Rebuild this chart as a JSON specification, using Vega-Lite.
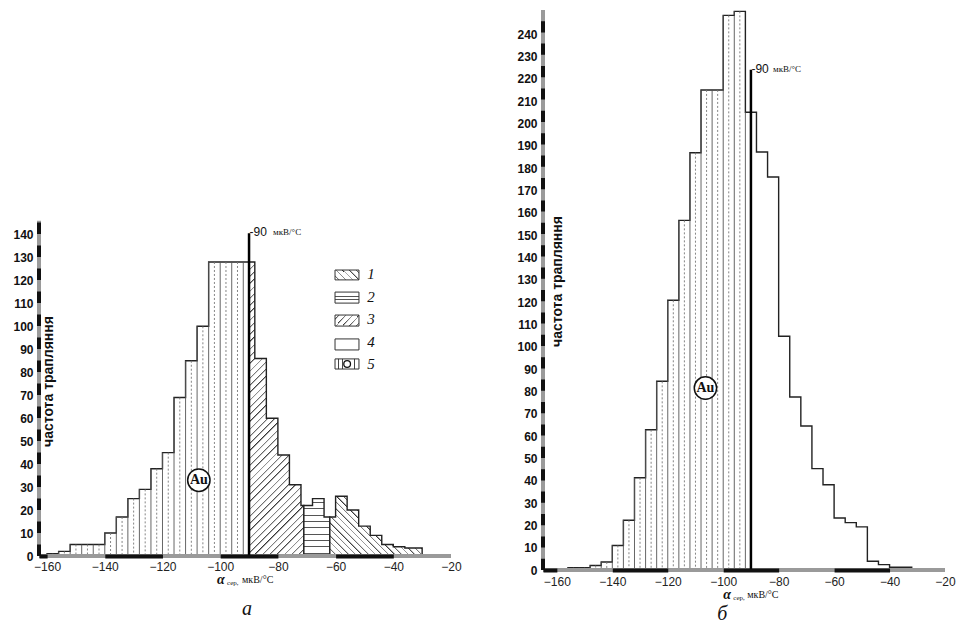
{
"$schema": "https://vega.github.io/schema/vega-lite/v6.json",
"background": "white",
"padding": {"left": 12, "top": 8, "right": 0, "bottom": 0},
"autosize": {"type": "pad"},
"config": {"view": {"stroke": null}},
"datasets": {
"a": [
{"x0":-160,"x1":-156,"n":1,"zone":"Au"},
{"x0":-156,"x1":-152,"n":2,"zone":"Au"},
{"x0":-152,"x1":-148,"n":5,"zone":"Au"},
{"x0":-148,"x1":-144,"n":5,"zone":"Au"},
{"x0":-144,"x1":-140,"n":5,"zone":"Au"},
{"x0":-140,"x1":-136,"n":10,"zone":"Au"},
{"x0":-136,"x1":-132,"n":17,"zone":"Au"},
{"x0":-132,"x1":-128,"n":25,"zone":"Au"},
{"x0":-128,"x1":-124,"n":29,"zone":"Au"},
{"x0":-124,"x1":-120,"n":38,"zone":"Au"},
{"x0":-120,"x1":-116,"n":45,"zone":"Au"},
{"x0":-116,"x1":-112,"n":69,"zone":"Au"},
{"x0":-112,"x1":-108,"n":85,"zone":"Au"},
{"x0":-108,"x1":-104,"n":100,"zone":"Au"},
{"x0":-104,"x1":-100,"n":128,"zone":"Au"},
{"x0":-100,"x1":-96,"n":128,"zone":"Au"},
{"x0":-96,"x1":-92,"n":128,"zone":"Au"},
{"x0":-92,"x1":-90,"n":128,"zone":"Au"},
{"x0":-90,"x1":-88,"n":128,"zone":"3"},
{"x0":-88,"x1":-84,"n":86,"zone":"3"},
{"x0":-84,"x1":-80,"n":60,"zone":"3"},
{"x0":-80,"x1":-76,"n":44,"zone":"3"},
{"x0":-76,"x1":-72,"n":31,"zone":"3"},
{"x0":-72,"x1":-71,"n":22,"zone":"3"},
{"x0":-71,"x1":-68,"n":22,"zone":"2"},
{"x0":-68,"x1":-64,"n":25,"zone":"2"},
{"x0":-64,"x1":-62,"n":17,"zone":"2"},
{"x0":-62,"x1":-60,"n":17,"zone":"1"},
{"x0":-60,"x1":-56,"n":26,"zone":"1"},
{"x0":-56,"x1":-52,"n":20,"zone":"1"},
{"x0":-52,"x1":-48,"n":13,"zone":"1"},
{"x0":-48,"x1":-44,"n":9,"zone":"1"},
{"x0":-44,"x1":-40,"n":5,"zone":"1"},
{"x0":-40,"x1":-36,"n":4,"zone":"1"},
{"x0":-36,"x1":-30,"n":3.5,"zone":"1"}
],
"b": [
{"x0":-156,"x1":-152,"n":1,"zone":"Au"},
{"x0":-152,"x1":-148,"n":1,"zone":"Au"},
{"x0":-148,"x1":-144,"n":2,"zone":"Au"},
{"x0":-144,"x1":-140,"n":3.6,"zone":"Au"},
{"x0":-140,"x1":-136,"n":11,"zone":"Au"},
{"x0":-136,"x1":-132,"n":22.3,"zone":"Au"},
{"x0":-132,"x1":-128,"n":41.3,"zone":"Au"},
{"x0":-128,"x1":-124,"n":62.8,"zone":"Au"},
{"x0":-124,"x1":-120,"n":84.5,"zone":"Au"},
{"x0":-120,"x1":-116,"n":120.8,"zone":"Au"},
{"x0":-116,"x1":-112,"n":156.6,"zone":"Au"},
{"x0":-112,"x1":-108,"n":186.9,"zone":"Au"},
{"x0":-108,"x1":-104,"n":215,"zone":"Au"},
{"x0":-104,"x1":-100,"n":215,"zone":"Au"},
{"x0":-100,"x1":-96,"n":248.4,"zone":"Au"},
{"x0":-96,"x1":-92,"n":250.2,"zone":"Au"},
{"x0":-92,"x1":-90,"n":205,"zone":"Au"},
{"x0":-90,"x1":-88,"n":205,"zone":"4"},
{"x0":-88,"x1":-84,"n":187.2,"zone":"4"},
{"x0":-84,"x1":-80,"n":176,"zone":"4"},
{"x0":-80,"x1":-76,"n":104.7,"zone":"4"},
{"x0":-76,"x1":-72,"n":77.5,"zone":"4"},
{"x0":-72,"x1":-68,"n":64.5,"zone":"4"},
{"x0":-68,"x1":-64,"n":45.4,"zone":"4"},
{"x0":-64,"x1":-60,"n":38.2,"zone":"4"},
{"x0":-60,"x1":-56,"n":23.3,"zone":"4"},
{"x0":-56,"x1":-52,"n":21.2,"zone":"4"},
{"x0":-52,"x1":-48,"n":19.3,"zone":"4"},
{"x0":-48,"x1":-44,"n":3.9,"zone":"4"},
{"x0":-44,"x1":-40,"n":2.4,"zone":"4"},
{"x0":-40,"x1":-36,"n":1.2,"zone":"4"},
{"x0":-36,"x1":-32,"n":1.2,"zone":"4"}
]
},
"spacing": 92,
"bounds": "flush",
"hconcat": [
{
"width": 412, "height": 546,
"layer": [
{"data": {"name": "a"},
 "transform": [{"filter": "datum.zone === 'Au'"}, {"fold": ["x0", "x1"], "as": ["edge", "xv"]}],
 "mark": {"type": "area", "fill": "#fff", "stroke": "#222", "strokeWidth": 1.4},
 "encoding": {
  "x": {"field": "xv", "type": "quantitative", "scale": {"domain": [-162.8, -20], "nice": false, "zero": false},
   "axis": {"values": [-160,-140,-120,-100,-80,-60,-40,-20], "tickCount": 40, "title": null, "ticks": false, "grid": false, "domainColor": "#111", "domainWidth": 4, "domainDash": [57.7, 57.7], "domainDashOffset": 49.6, "labelFont": "Liberation Sans", "labelFontSize": 12, "labelColor": "#222", "labelPadding": 5, "labelFlush": false, "labelOverlap": false, "zindex": 1}},
  "y": {"field": "n", "type": "quantitative", "stack": null, "scale": {"domain": [0, 237.7], "nice": false, "zero": false},
   "axis": {"values": [0,10,20,30,40,50,60,70,80,90,100,110,120,130,140], "tickCount": 60, "domain": false, "ticks": false, "grid": false, "labelFont": "Liberation Sans", "labelFontWeight": "bold", "labelFontSize": 12, "labelColor": "#111", "labelPadding": 6, "labelOverlap": false, "labelFlush": false, "title": "частота трапляння", "titleX": 13, "titleY": 371, "titleAngle": -90, "titleAlign": "center", "titleBaseline": "alphabetic", "titleFont": "Liberation Sans", "titleFontSize": 14, "titleFontWeight": "bold", "titleColor": "#111", "zindex": 1}},
  "order": [{"field": "xv", "type": "quantitative"}, {"field": "edge", "type": "nominal", "sort": "descending"}]
 }},
{"data": {"name": "a"},
 "transform": [{"filter": "datum.zone === '3'"}, {"fold": ["x0", "x1"], "as": ["edge", "xv"]}],
 "mark": {"type": "area", "stroke": "#222", "strokeWidth": 1.4,
  "fill": {"gradient": "linear", "x1": 0, "y1": 0, "x2": 0.2137, "y2": 1.1465, "stops": [
{"offset":0,"color":"#333"},{"offset":0.006,"color":"#fff"},
{"offset":0.0208,"color":"#fff"},{"offset":0.0208,"color":"#333"},{"offset":0.0268,"color":"#fff"},
{"offset":0.0417,"color":"#fff"},{"offset":0.0417,"color":"#333"},{"offset":0.0477,"color":"#fff"},
{"offset":0.0625,"color":"#fff"},{"offset":0.0625,"color":"#333"},{"offset":0.0685,"color":"#fff"},
{"offset":0.0833,"color":"#fff"},{"offset":0.0833,"color":"#333"},{"offset":0.0893,"color":"#fff"},
{"offset":0.1042,"color":"#fff"},{"offset":0.1042,"color":"#333"},{"offset":0.1102,"color":"#fff"},
{"offset":0.125,"color":"#fff"},{"offset":0.125,"color":"#333"},{"offset":0.131,"color":"#fff"},
{"offset":0.1458,"color":"#fff"},{"offset":0.1458,"color":"#333"},{"offset":0.1518,"color":"#fff"},
{"offset":0.1667,"color":"#fff"},{"offset":0.1667,"color":"#333"},{"offset":0.1727,"color":"#fff"},
{"offset":0.1875,"color":"#fff"},{"offset":0.1875,"color":"#333"},{"offset":0.1935,"color":"#fff"},
{"offset":0.2083,"color":"#fff"},{"offset":0.2083,"color":"#333"},{"offset":0.2143,"color":"#fff"},
{"offset":0.2292,"color":"#fff"},{"offset":0.2292,"color":"#333"},{"offset":0.2352,"color":"#fff"},
{"offset":0.25,"color":"#fff"},{"offset":0.25,"color":"#333"},{"offset":0.256,"color":"#fff"},
{"offset":0.2708,"color":"#fff"},{"offset":0.2708,"color":"#333"},{"offset":0.2768,"color":"#fff"},
{"offset":0.2917,"color":"#fff"},{"offset":0.2917,"color":"#333"},{"offset":0.2977,"color":"#fff"},
{"offset":0.3125,"color":"#fff"},{"offset":0.3125,"color":"#333"},{"offset":0.3185,"color":"#fff"},
{"offset":0.3333,"color":"#fff"},{"offset":0.3333,"color":"#333"},{"offset":0.3393,"color":"#fff"},
{"offset":0.3542,"color":"#fff"},{"offset":0.3542,"color":"#333"},{"offset":0.3602,"color":"#fff"},
{"offset":0.375,"color":"#fff"},{"offset":0.375,"color":"#333"},{"offset":0.381,"color":"#fff"},
{"offset":0.3958,"color":"#fff"},{"offset":0.3958,"color":"#333"},{"offset":0.4018,"color":"#fff"},
{"offset":0.4167,"color":"#fff"},{"offset":0.4167,"color":"#333"},{"offset":0.4227,"color":"#fff"},
{"offset":0.4375,"color":"#fff"},{"offset":0.4375,"color":"#333"},{"offset":0.4435,"color":"#fff"},
{"offset":0.4583,"color":"#fff"},{"offset":0.4583,"color":"#333"},{"offset":0.4643,"color":"#fff"},
{"offset":0.4792,"color":"#fff"},{"offset":0.4792,"color":"#333"},{"offset":0.4852,"color":"#fff"},
{"offset":0.5,"color":"#fff"},{"offset":0.5,"color":"#333"},{"offset":0.506,"color":"#fff"},
{"offset":0.5208,"color":"#fff"},{"offset":0.5208,"color":"#333"},{"offset":0.5268,"color":"#fff"},
{"offset":0.5417,"color":"#fff"},{"offset":0.5417,"color":"#333"},{"offset":0.5477,"color":"#fff"},
{"offset":0.5625,"color":"#fff"},{"offset":0.5625,"color":"#333"},{"offset":0.5685,"color":"#fff"},
{"offset":0.5833,"color":"#fff"},{"offset":0.5833,"color":"#333"},{"offset":0.5893,"color":"#fff"},
{"offset":0.6042,"color":"#fff"},{"offset":0.6042,"color":"#333"},{"offset":0.6102,"color":"#fff"},
{"offset":0.625,"color":"#fff"},{"offset":0.625,"color":"#333"},{"offset":0.631,"color":"#fff"},
{"offset":0.6458,"color":"#fff"},{"offset":0.6458,"color":"#333"},{"offset":0.6518,"color":"#fff"},
{"offset":0.6667,"color":"#fff"},{"offset":0.6667,"color":"#333"},{"offset":0.6727,"color":"#fff"},
{"offset":0.6875,"color":"#fff"},{"offset":0.6875,"color":"#333"},{"offset":0.6935,"color":"#fff"},
{"offset":0.7083,"color":"#fff"},{"offset":0.7083,"color":"#333"},{"offset":0.7143,"color":"#fff"},
{"offset":0.7292,"color":"#fff"},{"offset":0.7292,"color":"#333"},{"offset":0.7352,"color":"#fff"},
{"offset":0.75,"color":"#fff"},{"offset":0.75,"color":"#333"},{"offset":0.756,"color":"#fff"},
{"offset":0.7708,"color":"#fff"},{"offset":0.7708,"color":"#333"},{"offset":0.7768,"color":"#fff"},
{"offset":0.7917,"color":"#fff"},{"offset":0.7917,"color":"#333"},{"offset":0.7977,"color":"#fff"},
{"offset":0.8125,"color":"#fff"},{"offset":0.8125,"color":"#333"},{"offset":0.8185,"color":"#fff"},
{"offset":0.8333,"color":"#fff"},{"offset":0.8333,"color":"#333"},{"offset":0.8393,"color":"#fff"},
{"offset":0.8542,"color":"#fff"},{"offset":0.8542,"color":"#333"},{"offset":0.8602,"color":"#fff"},
{"offset":0.875,"color":"#fff"},{"offset":0.875,"color":"#333"},{"offset":0.881,"color":"#fff"},
{"offset":0.8958,"color":"#fff"},{"offset":0.8958,"color":"#333"},{"offset":0.9018,"color":"#fff"},
{"offset":0.9167,"color":"#fff"},{"offset":0.9167,"color":"#333"},{"offset":0.9227,"color":"#fff"},
{"offset":0.9375,"color":"#fff"},{"offset":0.9375,"color":"#333"},{"offset":0.9435,"color":"#fff"},
{"offset":0.9583,"color":"#fff"},{"offset":0.9583,"color":"#333"},{"offset":0.9643,"color":"#fff"},
{"offset":0.9792,"color":"#fff"},{"offset":0.9792,"color":"#333"},{"offset":0.9852,"color":"#fff"},
{"offset":1,"color":"#fff"}]}},
 "encoding": {
  "x": {"field": "xv", "type": "quantitative"},
  "y": {"field": "n", "type": "quantitative", "stack": null},
  "order": [{"field": "xv", "type": "quantitative"}, {"field": "edge", "type": "nominal", "sort": "descending"}]
 }},
{"data": {"name": "a"},
 "transform": [{"filter": "datum.zone === '2'"}, {"fold": ["x0", "x1"], "as": ["edge", "xv"]}],
 "mark": {"type": "area", "stroke": "#222", "strokeWidth": 1.4,
  "fill": {"gradient": "linear", "x1": 0, "y1": 0, "x2": 0, "y2": 1, "stops": [
{"offset":0,"color":"#fff"},
{"offset":0.0556,"color":"#fff"},{"offset":0.0556,"color":"#555"},{"offset":0.0736,"color":"#555"},{"offset":0.0736,"color":"#fff"},
{"offset":0.1667,"color":"#fff"},{"offset":0.1667,"color":"#555"},{"offset":0.1847,"color":"#555"},{"offset":0.1847,"color":"#fff"},
{"offset":0.2778,"color":"#fff"},{"offset":0.2778,"color":"#555"},{"offset":0.2958,"color":"#555"},{"offset":0.2958,"color":"#fff"},
{"offset":0.3889,"color":"#fff"},{"offset":0.3889,"color":"#555"},{"offset":0.4069,"color":"#555"},{"offset":0.4069,"color":"#fff"},
{"offset":0.5,"color":"#fff"},{"offset":0.5,"color":"#555"},{"offset":0.518,"color":"#555"},{"offset":0.518,"color":"#fff"},
{"offset":0.6111,"color":"#fff"},{"offset":0.6111,"color":"#555"},{"offset":0.6291,"color":"#555"},{"offset":0.6291,"color":"#fff"},
{"offset":0.7222,"color":"#fff"},{"offset":0.7222,"color":"#555"},{"offset":0.7402,"color":"#555"},{"offset":0.7402,"color":"#fff"},
{"offset":0.8333,"color":"#fff"},{"offset":0.8333,"color":"#555"},{"offset":0.8513,"color":"#555"},{"offset":0.8513,"color":"#fff"},
{"offset":0.9444,"color":"#fff"},{"offset":0.9444,"color":"#555"},{"offset":0.9624,"color":"#555"},{"offset":0.9624,"color":"#fff"},
{"offset":1,"color":"#fff"}]}},
 "encoding": {
  "x": {"field": "xv", "type": "quantitative"},
  "y": {"field": "n", "type": "quantitative", "stack": null},
  "order": [{"field": "xv", "type": "quantitative"}, {"field": "edge", "type": "nominal", "sort": "descending"}]
 }},
{"data": {"name": "a"},
 "transform": [{"filter": "datum.zone === '1'"}, {"fold": ["x0", "x1"], "as": ["edge", "xv"]}],
 "mark": {"type": "area", "stroke": "#222", "strokeWidth": 1.4,
  "fill": {"gradient": "linear", "x1": 0, "y1": 1, "x2": 1.1613, "y2": 0.2497, "stops": [
{"offset":0,"color":"#333"},{"offset":0.012,"color":"#fff"},
{"offset":0.0435,"color":"#fff"},{"offset":0.0435,"color":"#333"},{"offset":0.0555,"color":"#fff"},
{"offset":0.087,"color":"#fff"},{"offset":0.087,"color":"#333"},{"offset":0.099,"color":"#fff"},
{"offset":0.1304,"color":"#fff"},{"offset":0.1304,"color":"#333"},{"offset":0.1424,"color":"#fff"},
{"offset":0.1739,"color":"#fff"},{"offset":0.1739,"color":"#333"},{"offset":0.1859,"color":"#fff"},
{"offset":0.2174,"color":"#fff"},{"offset":0.2174,"color":"#333"},{"offset":0.2294,"color":"#fff"},
{"offset":0.2609,"color":"#fff"},{"offset":0.2609,"color":"#333"},{"offset":0.2729,"color":"#fff"},
{"offset":0.3043,"color":"#fff"},{"offset":0.3043,"color":"#333"},{"offset":0.3163,"color":"#fff"},
{"offset":0.3478,"color":"#fff"},{"offset":0.3478,"color":"#333"},{"offset":0.3598,"color":"#fff"},
{"offset":0.3913,"color":"#fff"},{"offset":0.3913,"color":"#333"},{"offset":0.4033,"color":"#fff"},
{"offset":0.4348,"color":"#fff"},{"offset":0.4348,"color":"#333"},{"offset":0.4468,"color":"#fff"},
{"offset":0.4783,"color":"#fff"},{"offset":0.4783,"color":"#333"},{"offset":0.4903,"color":"#fff"},
{"offset":0.5217,"color":"#fff"},{"offset":0.5217,"color":"#333"},{"offset":0.5337,"color":"#fff"},
{"offset":0.5652,"color":"#fff"},{"offset":0.5652,"color":"#333"},{"offset":0.5772,"color":"#fff"},
{"offset":0.6087,"color":"#fff"},{"offset":0.6087,"color":"#333"},{"offset":0.6207,"color":"#fff"},
{"offset":0.6522,"color":"#fff"},{"offset":0.6522,"color":"#333"},{"offset":0.6642,"color":"#fff"},
{"offset":0.6957,"color":"#fff"},{"offset":0.6957,"color":"#333"},{"offset":0.7077,"color":"#fff"},
{"offset":0.7391,"color":"#fff"},{"offset":0.7391,"color":"#333"},{"offset":0.7511,"color":"#fff"},
{"offset":0.7826,"color":"#fff"},{"offset":0.7826,"color":"#333"},{"offset":0.7946,"color":"#fff"},
{"offset":0.8261,"color":"#fff"},{"offset":0.8261,"color":"#333"},{"offset":0.8381,"color":"#fff"},
{"offset":0.8696,"color":"#fff"},{"offset":0.8696,"color":"#333"},{"offset":0.8816,"color":"#fff"},
{"offset":0.913,"color":"#fff"},{"offset":0.913,"color":"#333"},{"offset":0.925,"color":"#fff"},
{"offset":0.9565,"color":"#fff"},{"offset":0.9565,"color":"#333"},{"offset":0.9685,"color":"#fff"},
{"offset":1,"color":"#fff"}]}},
 "encoding": {
  "x": {"field": "xv", "type": "quantitative"},
  "y": {"field": "n", "type": "quantitative", "stack": null},
  "order": [{"field": "xv", "type": "quantitative"}, {"field": "edge", "type": "nominal", "sort": "descending"}]
 }},
{"data": {"name": "a"},
 "transform": [{"filter": "datum.zone === 'Au'"}],
 "mark": {"type": "rule", "stroke": "#555", "strokeWidth": 0.9},
 "encoding": {"x": {"field": "x0", "type": "quantitative"}, "y": {"field": "n", "type": "quantitative"}, "y2": {"datum": 0}}},
{"data": {"name": "a"},
 "transform": [{"filter": "datum.zone === 'Au'"}],
 "mark": {"type": "rule", "stroke": "#777", "strokeWidth": 0.9, "strokeDash": [2, 2], "xOffset": 5.77},
 "encoding": {"x": {"field": "x0", "type": "quantitative"}, "y": {"field": "n", "type": "quantitative"}, "y2": {"datum": 0}}},
{"data": {"values": [{}]},
 "mark": {"type": "rule", "stroke": "#9a9a9a", "strokeWidth": 4},
 "encoding": {"x": {"datum": -162.8}, "x2": {"datum": -20}, "y": {"datum": 0}}},
{"data": {"values": [{}]},
 "mark": {"type": "rule", "stroke": "#9a9a9a", "strokeWidth": 4},
 "encoding": {"x": {"datum": -162.8}, "y": {"datum": 0}, "y2": {"datum": 146}}},
{"data": {"values": [{}]},
 "mark": {"type": "rule", "stroke": "#111", "strokeWidth": 4, "strokeDash": [11.5, 11.5]},
 "encoding": {"x": {"datum": -162.8}, "y": {"datum": 0}, "y2": {"datum": 146}}},
{"data": {"values": [{}]},
 "mark": {"type": "rule", "stroke": "#000", "strokeWidth": 2.5},
 "encoding": {"x": {"datum": -90}, "y": {"datum": 0}, "y2": {"datum": 140.5}}},
{"data": {"values": [{}]},
 "mark": {"type": "text", "text": "-90", "align": "left", "baseline": "middle", "dx": 0.5, "font": "Liberation Sans", "fontSize": 12, "fill": "#111"},
 "encoding": {"x": {"datum": -90}, "y": {"datum": 141}}},
{"data": {"values": [{}]},
 "mark": {"type": "text", "text": "мкВ/°C", "align": "left", "baseline": "middle", "dx": 24, "font": "Liberation Serif", "fontSize": 9, "fill": "#111"},
 "encoding": {"x": {"datum": -90}, "y": {"datum": 141}}},
{"data": {"values": [{}]},
 "mark": {"type": "point", "shape": "circle", "size": 500, "filled": true, "fill": "#fff", "stroke": "#111", "strokeWidth": 1.5, "opacity": 1},
 "encoding": {"x": {"datum": -107.4}, "y": {"datum": 33}}},
{"data": {"values": [{}]},
 "mark": {"type": "text", "text": "Au", "align": "center", "baseline": "middle", "font": "Liberation Serif", "fontWeight": "bold", "fontSize": 14, "fill": "#111"},
 "encoding": {"x": {"datum": -107.4}, "y": {"datum": 33}}},
{"data": {"values": [{}]},
 "mark": {"type": "rect", "stroke": "#333", "strokeWidth": 1,
  "fill": {"gradient": "linear", "x1": 0, "y1": 1, "x2": 1.207, "y2": 0.497, "stops": [
{"offset":0,"color":"#fff"},{"offset":0.1,"color":"#fff"},{"offset":0.1,"color":"#333"},{"offset":0.15,"color":"#fff"},
{"offset":0.3,"color":"#fff"},{"offset":0.3,"color":"#333"},{"offset":0.35,"color":"#fff"},
{"offset":0.5,"color":"#fff"},{"offset":0.5,"color":"#333"},{"offset":0.55,"color":"#fff"},
{"offset":0.7,"color":"#fff"},{"offset":0.7,"color":"#333"},{"offset":0.75,"color":"#fff"},
{"offset":0.9,"color":"#fff"},{"offset":0.9,"color":"#333"},{"offset":0.95,"color":"#fff"},{"offset":1,"color":"#fff"}]}},
 "encoding": {"x": {"datum": -60.2}, "x2": {"datum": -51.9}, "y": {"datum": 124.5}, "y2": {"datum": 120.2}}},
{"data": {"values": [{}]},
 "mark": {"type": "rect", "stroke": "#333", "strokeWidth": 1,
  "fill": {"gradient": "linear", "x1": 0, "y1": 0, "x2": 0, "y2": 1, "stops": [
{"offset":0,"color":"#fff"},{"offset":0.33,"color":"#fff"},{"offset":0.33,"color":"#555"},{"offset":0.43,"color":"#555"},{"offset":0.43,"color":"#fff"},
{"offset":0.66,"color":"#fff"},{"offset":0.66,"color":"#555"},{"offset":0.76,"color":"#555"},{"offset":0.76,"color":"#fff"},{"offset":1,"color":"#fff"}]}},
 "encoding": {"x": {"datum": -60.2}, "x2": {"datum": -51.9}, "y": {"datum": 114.9}, "y2": {"datum": 110.1}}},
{"data": {"values": [{}]},
 "mark": {"type": "rect", "stroke": "#333", "strokeWidth": 1,
  "fill": {"gradient": "linear", "x1": 0, "y1": 0, "x2": 1.207, "y2": 0.503, "stops": [
{"offset":0,"color":"#fff"},{"offset":0.1,"color":"#fff"},{"offset":0.1,"color":"#333"},{"offset":0.15,"color":"#fff"},
{"offset":0.3,"color":"#fff"},{"offset":0.3,"color":"#333"},{"offset":0.35,"color":"#fff"},
{"offset":0.5,"color":"#fff"},{"offset":0.5,"color":"#333"},{"offset":0.55,"color":"#fff"},
{"offset":0.7,"color":"#fff"},{"offset":0.7,"color":"#333"},{"offset":0.75,"color":"#fff"},
{"offset":0.9,"color":"#fff"},{"offset":0.9,"color":"#333"},{"offset":0.95,"color":"#fff"},{"offset":1,"color":"#fff"}]}},
 "encoding": {"x": {"datum": -60.2}, "x2": {"datum": -51.9}, "y": {"datum": 104.9}, "y2": {"datum": 100.1}}},
{"data": {"values": [{}]},
 "mark": {"type": "rect", "stroke": "#333", "strokeWidth": 1, "fill": "#fff"},
 "encoding": {"x": {"datum": -60.2}, "x2": {"datum": -51.9}, "y": {"datum": 94.5}, "y2": {"datum": 89.7}}},
{"data": {"values": [{}]},
 "mark": {"type": "rect", "stroke": "#333", "strokeWidth": 1,
  "fill": {"gradient": "linear", "x1": 0, "y1": 0, "x2": 1, "y2": 0, "stops": [
{"offset":0,"color":"#fff"},{"offset":0.12,"color":"#fff"},{"offset":0.12,"color":"#444"},{"offset":0.16,"color":"#444"},{"offset":0.16,"color":"#fff"},
{"offset":0.28,"color":"#fff"},{"offset":0.28,"color":"#444"},{"offset":0.32,"color":"#444"},{"offset":0.32,"color":"#fff"},
{"offset":0.8,"color":"#fff"},{"offset":0.8,"color":"#444"},{"offset":0.84,"color":"#444"},{"offset":0.84,"color":"#fff"},{"offset":1,"color":"#fff"}]}},
 "encoding": {"x": {"datum": -60.2}, "x2": {"datum": -51.9}, "y": {"datum": 85.8}, "y2": {"datum": 81.4}}},
{"data": {"values": [{}]},
 "mark": {"type": "point", "shape": "circle", "size": 45, "filled": true, "fill": "#fff", "stroke": "#111", "strokeWidth": 1.3, "opacity": 1},
 "encoding": {"x": {"datum": -56}, "y": {"datum": 83.6}}},
{"data": {"values": [{}]},
 "mark": {"type": "text", "text": ["1", "2", "3", "4", "5"], "lineHeight": 22.4, "align": "center", "baseline": "top", "font": "Liberation Serif", "fontStyle": "italic", "fontSize": 15, "fill": "#111"},
 "encoding": {"x": {"datum": -47.7}, "y": {"datum": 125.6}}},
{"data": {"values": [{}]},
 "mark": {"type": "text", "text": "α", "align": "left", "baseline": "middle", "font": "Liberation Serif", "fontStyle": "italic", "fontWeight": "bold", "fontSize": 14, "fill": "#111"},
 "encoding": {"x": {"datum": -101.1}, "y": {"datum": -10.6}}},
{"data": {"values": [{}]},
 "mark": {"type": "text", "text": "сер,", "align": "left", "baseline": "middle", "dx": 10, "dy": 3, "font": "Liberation Serif", "fontSize": 7, "fill": "#111"},
 "encoding": {"x": {"datum": -101.1}, "y": {"datum": -10.6}}},
{"data": {"values": [{}]},
 "mark": {"type": "text", "text": "мкВ/°C", "align": "left", "baseline": "middle", "dx": 25, "dy": 0, "font": "Liberation Serif", "fontSize": 10, "fill": "#111"},
 "encoding": {"x": {"datum": -101.1}, "y": {"datum": -10.6}}},
{"data": {"values": [{}]},
 "mark": {"type": "text", "text": "а", "align": "center", "baseline": "middle", "font": "Liberation Serif", "fontStyle": "italic", "fontSize": 20, "fill": "#111"},
 "encoding": {"x": {"datum": -90.7}, "y": {"datum": -23.1}}}
]
},
{
"width": 402, "height": 560,
"layer": [
{"data": {"name": "b"},
 "transform": [{"filter": "datum.zone === 'Au'"}, {"fold": ["x0", "x1"], "as": ["edge", "xv"]}],
 "mark": {"type": "area", "fill": "#fff", "stroke": "#222", "strokeWidth": 1.4},
 "encoding": {
  "x": {"field": "xv", "type": "quantitative", "scale": {"domain": [-165, -20], "nice": false, "zero": false},
   "axis": {"values": [-160,-140,-120,-100,-80,-60,-40,-20], "tickCount": 40, "title": null, "ticks": false, "grid": false, "domainColor": "#111", "domainWidth": 4, "domainDash": [55.45, 55.45], "domainDashOffset": 41.6, "labelFont": "Liberation Sans", "labelFontSize": 12, "labelColor": "#222", "labelPadding": 6, "labelFlush": false, "labelOverlap": false, "zindex": 1}},
  "y": {"field": "n", "type": "quantitative", "stack": null, "scale": {"domain": [0, 250.8], "nice": false, "zero": false},
   "axis": {"values": [0,10,20,30,40,50,60,70,80,90,100,110,120,130,140,150,160,170,180,190,200,210,220,230,240], "tickCount": 60, "domain": false, "ticks": false, "grid": false, "labelFont": "Liberation Sans", "labelFontWeight": "bold", "labelFontSize": 12, "labelColor": "#111", "labelPadding": 6, "labelOverlap": false, "labelFlush": false, "title": "частота трапляння", "titleX": 18, "titleY": 271, "titleAngle": -90, "titleAlign": "center", "titleBaseline": "alphabetic", "titleFont": "Liberation Sans", "titleFontSize": 14, "titleFontWeight": "bold", "titleColor": "#111", "zindex": 1}},
  "order": [{"field": "xv", "type": "quantitative"}, {"field": "edge", "type": "nominal", "sort": "descending"}]
 }},
{"data": {"name": "b"},
 "transform": [{"filter": "datum.zone === '4'"}, {"fold": ["x0", "x1"], "as": ["edge", "xv"]}],
 "mark": {"type": "area", "fill": "#fff", "stroke": "#222", "strokeWidth": 1.4},
 "encoding": {
  "x": {"field": "xv", "type": "quantitative"},
  "y": {"field": "n", "type": "quantitative", "stack": null},
  "order": [{"field": "xv", "type": "quantitative"}, {"field": "edge", "type": "nominal", "sort": "descending"}]
 }},
{"data": {"name": "b"},
 "transform": [{"filter": "datum.zone === 'Au'"}],
 "mark": {"type": "rule", "stroke": "#555", "strokeWidth": 0.9},
 "encoding": {"x": {"field": "x0", "type": "quantitative"}, "y": {"field": "n", "type": "quantitative"}, "y2": {"datum": 0}}},
{"data": {"name": "b"},
 "transform": [{"filter": "datum.zone === 'Au'"}],
 "mark": {"type": "rule", "stroke": "#777", "strokeWidth": 0.9, "strokeDash": [2, 2], "xOffset": 5.54},
 "encoding": {"x": {"field": "x0", "type": "quantitative"}, "y": {"field": "n", "type": "quantitative"}, "y2": {"datum": 0}}},
{"data": {"values": [{}]},
 "mark": {"type": "rule", "stroke": "#9a9a9a", "strokeWidth": 4},
 "encoding": {"x": {"datum": -165}, "x2": {"datum": -20}, "y": {"datum": 0}}},
{"data": {"values": [{}]},
 "mark": {"type": "rule", "stroke": "#9a9a9a", "strokeWidth": 4},
 "encoding": {"x": {"datum": -165}, "y": {"datum": 0}, "y2": {"datum": 250.8}}},
{"data": {"values": [{}]},
 "mark": {"type": "rule", "stroke": "#111", "strokeWidth": 4, "strokeDash": [11.2, 11.2]},
 "encoding": {"x": {"datum": -165}, "y": {"datum": 0}, "y2": {"datum": 250.8}}},
{"data": {"values": [{}]},
 "mark": {"type": "rule", "stroke": "#000", "strokeWidth": 2.5},
 "encoding": {"x": {"datum": -90}, "y": {"datum": 0}, "y2": {"datum": 224}}},
{"data": {"values": [{}]},
 "mark": {"type": "text", "text": "-90", "align": "left", "baseline": "middle", "dx": 0.5, "font": "Liberation Sans", "fontSize": 12, "fill": "#111"},
 "encoding": {"x": {"datum": -90}, "y": {"datum": 224.4}}},
{"data": {"values": [{}]},
 "mark": {"type": "text", "text": "мкВ/°C", "align": "left", "baseline": "middle", "dx": 22, "font": "Liberation Serif", "fontSize": 9, "fill": "#111"},
 "encoding": {"x": {"datum": -90}, "y": {"datum": 224.4}}},
{"data": {"values": [{}]},
 "mark": {"type": "point", "shape": "circle", "size": 500, "filled": true, "fill": "#fff", "stroke": "#111", "strokeWidth": 1.5, "opacity": 1},
 "encoding": {"x": {"datum": -106.4}, "y": {"datum": 81.5}}},
{"data": {"values": [{}]},
 "mark": {"type": "text", "text": "Au", "align": "center", "baseline": "middle", "font": "Liberation Serif", "fontWeight": "bold", "fontSize": 14, "fill": "#111"},
 "encoding": {"x": {"datum": -106.4}, "y": {"datum": 81.5}}},
{"data": {"values": [{}]},
 "mark": {"type": "text", "text": "α", "align": "left", "baseline": "middle", "font": "Liberation Serif", "fontStyle": "italic", "fontWeight": "bold", "fontSize": 14, "fill": "#111"},
 "encoding": {"x": {"datum": -100}, "y": {"datum": -11.3}}},
{"data": {"values": [{}]},
 "mark": {"type": "text", "text": "сер,", "align": "left", "baseline": "middle", "dx": 10, "dy": 3, "font": "Liberation Serif", "fontSize": 7, "fill": "#111"},
 "encoding": {"x": {"datum": -100}, "y": {"datum": -11.3}}},
{"data": {"values": [{}]},
 "mark": {"type": "text", "text": "мкВ/°C", "align": "left", "baseline": "middle", "dx": 24, "dy": 0, "font": "Liberation Serif", "fontSize": 10, "fill": "#111"},
 "encoding": {"x": {"datum": -100}, "y": {"datum": -11.3}}},
{"data": {"values": [{}]},
 "mark": {"type": "text", "text": "б", "align": "center", "baseline": "middle", "font": "Liberation Serif", "fontStyle": "italic", "fontSize": 20, "fill": "#111"},
 "encoding": {"x": {"datum": -100.3}, "y": {"datum": -19.6}}}
]
}
]
}
